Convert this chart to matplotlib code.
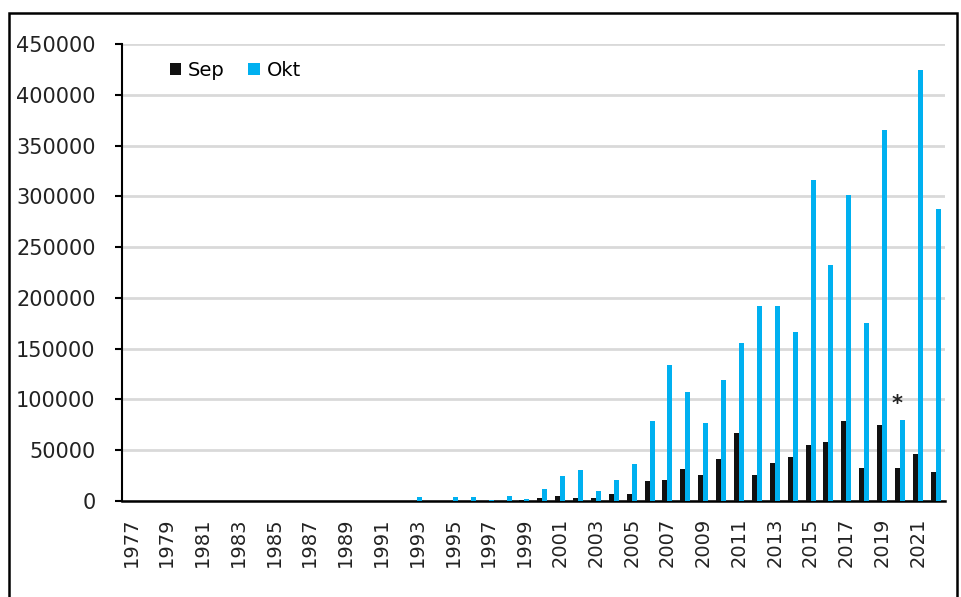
import numpy as np
import matplotlib
matplotlib.use("Agg")
import matplotlib.pyplot as plt
from matplotlib.patches import Rectangle

# --- Data ---
years = list(range(1977, 2023))

sep = [0, 0, 0, 0, 0, 0, 0, 0, 0, 0, 0, 0, 0, 0, 0, 0,   # 1977-1992
       0, 0, 0, 0, 0, 0,                                 # 1993-1998
       1000, 3300, 4600, 3300, 3300, 7200, 7200,         # 1999-2005
       19500, 21000, 31500, 25300, 41700, 67000,         # 2006-2011
       25300, 37700, 43000, 55500, 58100, 78500,         # 2012-2017
       32800, 74500, 32800, 46600, 28900]                # 2018-2022

okt = [0, 0, 0, 0, 0, 0, 0, 0, 0, 0, 0, 0, 0, 0, 0, 0,   # 1977-1992
       3500, 0, 3500, 3500, 1000, 4600,                  # 1993-1998
       2300, 12100, 25000, 30000, 9800, 21000, 36400,    # 1999-2005
       78500, 134000, 107400, 77100, 118900, 155600,     # 2006-2011
       192000, 192000, 166700, 316000, 232500, 301000,   # 2012-2017
       175600, 365000, 79500, 424800, 288000]            # 2018-2022

tick_years = [str(y) for y in years[::2]]
yticks = list(range(0, 450001, 50000))

SEP_COLOR = "#111111"
OKT_COLOR = "#00B0F0"

plt.rcParams['font.family'] = ['DejaVu Sans']

fig = plt.figure(figsize=(9.61, 5.97), dpi=100)
ax = fig.add_axes([0.127, 0.161, 0.856, 0.765])

x = np.arange(len(years))
w = 0.28
ax.bar(x - w / 2, sep, width=w, color=SEP_COLOR, label="Sep", zorder=3)
ax.bar(x + w / 2, okt, width=w, color=OKT_COLOR, label="Okt", zorder=3)

# asterisk above the 2020 October bar
i2020 = years.index(2020)
ax.annotate("*", xy=(i2020, okt[i2020]), xytext=(-2, 12), textcoords="offset points",
            ha="center", va="center", fontsize=15, fontweight="bold", color="#222222")

ax.set_xlim(-0.5, len(years) - 0.5)
ax.set_ylim(0, 450000)
ax.set_yticks(yticks)
ax.set_yticklabels([str(v) for v in yticks], fontsize=15, color="#222222")
ax.set_xticks(x[::2])
ax.set_xticklabels(tick_years, rotation=90, fontsize=14, color="#222222")
ax.tick_params(axis="x", length=0, pad=12)
ax.tick_params(axis="y", direction="out", length=5, width=1.5, pad=14)

ax.grid(axis="y", color="#d9d9d9", linewidth=2, zorder=0)
for side in ["top", "right"]:
    ax.spines[side].set_visible(False)
ax.spines["left"].set_linewidth(1.5)
ax.spines["bottom"].set_linewidth(1.8)

ax.legend(loc="center left", bbox_to_anchor=(0.058, 0.943), ncol=2, frameon=False,
          fontsize=14, handlelength=0.6, handleheight=0.6, handletextpad=0.35,
          columnspacing=1.2, borderpad=0, borderaxespad=0)

# outer chart border, cut off at the bottom like the reference
fig.patches.append(Rectangle((9 / 961, -0.05), (957 - 9) / 961, 1 - 13 / 597 + 0.05,
                             transform=fig.transFigure, fill=False,
                             edgecolor="black", linewidth=1.8))

fig.savefig("out.png", dpi=100)
